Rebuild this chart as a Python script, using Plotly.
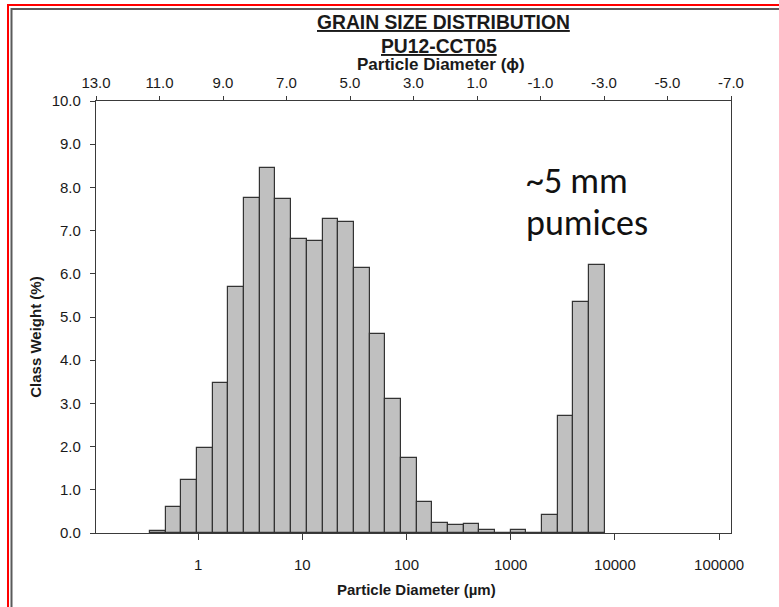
import numpy as np
import plotly.graph_objects as go

# ---- data ----
# fine-side phi edge of each half-phi class and its class weight (%)
phi_fine_edge = [11.5, 11.0, 10.5, 10.0, 9.5, 9.0, 8.5, 8.0, 7.5, 7.0, 6.5, 6.0, 5.5, 5.0,
                 4.5, 4.0, 3.5, 3.0, 2.5, 2.0, 1.5, 1.0, 0.5, 0.0, -0.5, -1.0, -1.5, -2.0, -2.5]
class_weight = [0.05, 0.60, 1.23, 1.97, 3.47, 5.70, 7.76, 8.46, 7.73, 6.80, 6.75, 7.27, 7.21, 6.13,
                4.60, 3.10, 1.74, 0.72, 0.24, 0.18, 0.21, 0.07, 0.00, 0.07, 0.00, 0.42, 2.72, 5.35, 6.20]
class_width_phi = 0.5

phi_ticks = [13, 11, 9, 7, 5, 3, 1, -1, -3, -5, -7]
phi_tick_labels = ["13.0", "11.0", "9.0", "7.0", "5.0", "3.0", "1.0", "-1.0", "-3.0", "-5.0", "-7.0"]
um_ticks = [1, 10, 100, 1000, 10000, 100000]
um_tick_labels = ["1", "10", "100", "1000", "10000", "100000"]
y_ticks = [0, 1, 2, 3, 4, 5, 6, 7, 8, 9, 10]

# ---- geometry helpers ----
W, H = 779, 607
L, R, T, B = 96, 731, 101, 533.5


def px(x):
    return (x - L) / (R - L)


def py(y):
    return (B - y) / (B - T)


phi_f = np.array(phi_fine_edge, dtype=float)
lo = np.log10(1000.0 * 2.0 ** (-phi_f))
hi = np.log10(1000.0 * 2.0 ** (-(phi_f - class_width_phi)))
centers = (lo + hi) / 2
widths = hi - lo

FONT = "Liberation Sans, Arial, sans-serif"
INK = "#1a1a1a"
FRAME = "#3a3a3a"
TICK_SIZE = 15

fig = go.Figure()
fig.add_trace(go.Bar(
    x=centers, y=class_weight, width=widths,
    marker=dict(color="#c0c0c0", line=dict(color="#333333", width=1.2)),
    showlegend=False, hoverinfo="skip",
))
# invisible trace to activate the top phi axis
fig.add_trace(go.Scatter(x=[phi_ticks[0], phi_ticks[-1]], y=[0, 0], xaxis="x2", yaxis="y",
                         mode="markers", marker=dict(opacity=0), showlegend=False, hoverinfo="skip"))

fig.update_layout(
    width=W, height=H,
    margin=dict(l=L, r=W - R, t=T, b=H - B, pad=0),
    paper_bgcolor="white", plot_bgcolor="white",
    font=dict(family=FONT, size=TICK_SIZE, color=INK),
    bargap=0,
    xaxis=dict(
        range=[-0.98, 5.114], tickmode="array",
        tickvals=[float(np.log10(v)) for v in um_ticks], ticktext=um_tick_labels,
        ticks="outside", ticklen=6, tickwidth=1.2, tickcolor=FRAME,
        ticklabelstandoff=12,
        showline=True, linecolor=FRAME, linewidth=1.3, mirror=False,
        showgrid=False, zeroline=False, tickfont=dict(size=TICK_SIZE, color=INK),
    ),
    xaxis2=dict(
        overlaying="x", side="top", anchor="y",
        range=[13, -7], tickmode="array", tickvals=phi_ticks, ticktext=phi_tick_labels,
        ticks="outside", ticklen=4, tickwidth=1.2, tickcolor=FRAME,
        ticklabelstandoff=2,
        showline=True, linecolor=FRAME, linewidth=1.3,
        showgrid=False, zeroline=False, tickfont=dict(size=TICK_SIZE, color=INK),
    ),
    yaxis=dict(
        range=[0, 10], tickmode="array", tickvals=y_ticks, tickformat=".1f",
        ticks="outside", ticklen=5, tickwidth=1.2, tickcolor=FRAME,
        ticklabelstandoff=6,
        showline=True, linecolor=FRAME, linewidth=1.3, mirror=True,
        showgrid=False, zeroline=False, tickfont=dict(size=TICK_SIZE, color=INK),
    ),
)

ann = [
    dict(text="<b><u>GRAIN SIZE DISTRIBUTION</u></b>", x=px(443), y=py(22), size=19.3),
    dict(text="<b><u>PU12-CCT05</u></b>", x=px(439), y=py(46), size=19.3),
    dict(text="<b>Particle Diameter (ϕ)</b>", x=px(441), y=py(64), size=17),
    dict(text="<b>Particle Diameter (µm)</b>", x=px(416), y=py(590), size=15),
]
for a in ann:
    fig.add_annotation(text=a["text"], x=a["x"], y=a["y"], xref="paper", yref="paper",
                       showarrow=False, xanchor="center", yanchor="middle",
                       font=dict(family=FONT, size=a["size"], color=INK))
fig.add_annotation(text="<b>Class Weight (%)</b>", x=px(36), y=py(338), xref="paper", yref="paper",
                   showarrow=False, textangle=-90, xanchor="center", yanchor="middle",
                   font=dict(family=FONT, size=15, color=INK))

# big annotation
for txt, yc in [("~5 mm", 181), ("pumices", 223)]:
    fig.add_annotation(text=txt, x=px(524), y=py(yc), xref="paper", yref="paper",
                       showarrow=False, xanchor="left", yanchor="middle",
                       font=dict(family="Calibri, Carlito, Lato, sans-serif", size=36, color="#111111"))

# outer borders (red and gray)
fig.add_shape(type="rect", xref="paper", yref="paper", x0=px(8), x1=px(W + 20), y0=py(H + 20), y1=py(5),
              line=dict(color="#ff0000", width=2), fillcolor="rgba(0,0,0,0)", layer="above")
fig.add_shape(type="rect", xref="paper", yref="paper", x0=px(11.5), x1=px(W + 20), y0=py(H + 20), y1=py(9),
              line=dict(color="#5a5a5a", width=2), fillcolor="rgba(0,0,0,0)", layer="above")

fig.write_html("out.html")
